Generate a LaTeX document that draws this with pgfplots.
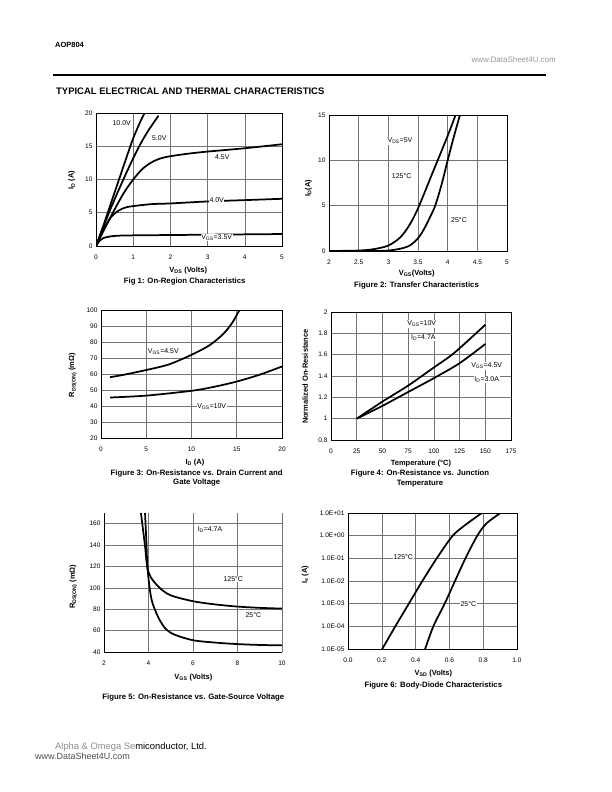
\documentclass[border=0pt]{standalone}
\usepackage{fontspec}
\setmainfont{Liberation Sans}
\usepackage{pgfplots}
\pgfplotsset{compat=1.18}
\newcommand{\sbs}[1]{\textsubscript{#1}}
\pgfplotsset{ds/.style={
  scale only axis, anchor=north west,
  grid=major, grid style={line width=0.55pt, black!55},
  axis line style={line width=0.75pt},
  tick style={draw=none},
  /pgf/number format/assume math mode=true,
  tick label style={font=\fontsize{6.6}{7}\selectfont},
  xticklabel style={anchor=base, yshift=-13bp},
  every axis x label/.style={anchor=center},
  every axis y label/.style={anchor=center, rotate=90},
  label style={font=\bfseries\fontsize{7.5}{9}\selectfont},
  every axis plot post/.append style={line width=1.75pt, black, mark=none, smooth},
}}
\tikzset{lab/.style={font=\fontsize{7}{8}\selectfont, fill=white, inner sep=0.6bp},
         figcap/.style={font=\bfseries\fontsize{7.8}{9.6}\selectfont, align=center, inner sep=0}}
\begin{document}
\begin{tikzpicture}
\path[use as bounding box] (0,0) rectangle (612bp,-792bp);
% header
\node[anchor=west,font=\bfseries\fontsize{7.5}{9}\selectfont,inner sep=0] at (55bp,-45bp) {AOP804};
\node[anchor=east,font=\fontsize{8}{9}\selectfont,text=black!40,inner sep=0] at (556bp,-60bp) {www.DataSheet4U.com};
\draw[line width=2bp] (53bp,-75bp) -- (546bp,-75bp);
\node[anchor=west,font=\bfseries\fontsize{9.5}{11}\selectfont,inner sep=0] at (56bp,-91bp) {TYPICAL ELECTRICAL AND THERMAL CHARACTERISTICS};

% ---------- Fig 1
\begin{axis}[ds, at={(96bp,-113bp)}, width=186bp, height=133bp,
  xmin=0, xmax=5, ymin=0, ymax=20, xtick={0,1,2,3,4,5}, ytick={0,5,10,15,20},
  xlabel={V\sbs{DS} (Volts)}, ylabel={I\sbs{D} (A)},
  xlabel style={at={(axis description cs:0.496,-0.186)}},
  ylabel style={at={(axis description cs:-0.131,0.496)}}]
\addplot coordinates {(0,0)(0.2,3.1)(0.4,6.4)(0.6,9.7)(0.8,13.0)(1.0,16.2)(1.2,18.8)(1.35,20.5)};
\addplot coordinates {(0,0)(0.2,2.9)(0.4,5.7)(0.6,8.3)(0.8,10.8)(1.0,13.2)(1.2,15.4)(1.4,17.3)(1.68,19.6)};
\addplot coordinates {(0,0)(0.25,2.8)(0.5,5.5)(0.75,8)(1,10)(1.25,11.6)(1.5,12.6)(1.75,13.2)(2,13.5)(2.5,13.9)(3,14.2)(4,14.7)(5,15.3)};
\addplot coordinates {(0,0)(0.2,2.5)(0.4,4.3)(0.6,5.3)(0.8,5.8)(1,6.0)(1.5,6.3)(2,6.4)(3,6.7)(4,6.9)(5,7.1)};
\addplot coordinates {(0,0)(0.1,0.8)(0.2,1.2)(0.4,1.45)(0.6,1.55)(1,1.6)(2,1.65)(3,1.7)(4,1.75)(5,1.8)};
\end{axis}
\node[lab] at (121.7bp,-123.3bp) {10.0V};
\node[lab] at (159.3bp,-137.7bp) {5.0V};
\node[lab] at (222.3bp,-157.3bp) {4.5V};
\node[lab] at (216.7bp,-200bp) {4.0V};
\node[lab] at (216.7bp,-237.3bp) {V\sbs{GS}=3.5V};
\node[figcap] at (184.7bp,-281.7bp) {Fig 1: On-Region Characteristics};

% ---------- Fig 2
\begin{axis}[ds, at={(329bp,-115bp)}, width=178bp, height=136bp,
  xmin=2, xmax=5, ymin=0, ymax=15, xtick={2,2.5,3,3.5,4,4.5,5}, ytick={0,5,10,15},
  xlabel={V\sbs{GS}(Volts)}, ylabel={I\sbs{D}(A)},
  xlabel style={at={(axis description cs:0.493,-0.164)}},
  ylabel style={at={(axis description cs:-0.116,0.461)}}]
\addplot coordinates {(2,0)(2.5,0.05)(2.75,0.2)(3,0.6)(3.2,1.5)(3.35,2.8)(3.5,4.7)(3.75,8.7)(4,12.7)(4.15,15.3)};
\addplot coordinates {(2,0)(2.8,0.01)(3,0.05)(3.2,0.25)(3.36,0.6)(3.5,1.4)(3.6,2.4)(3.7,3.7)(3.79,5)(3.9,7.4)(4,10)(4.1,12.5)(4.22,15.3)};
\end{axis}
\node[lab] at (400bp,-141bp) {V\sbs{DS}=5V};
\node[lab] at (401.7bp,-176bp) {125°C};
\node[lab] at (459bp,-220bp) {25°C};
\node[figcap] at (416.5bp,-285.7bp) {Figure 2: Transfer Characteristics};

% ---------- Fig 3
\begin{axis}[ds, at={(101bp,-310bp)}, width=181bp, height=128bp,
  xmin=0, xmax=20, ymin=20, ymax=100, xtick={0,5,10,15,20}, ytick={20,30,...,100},
  xlabel={I\sbs{D} (A)}, ylabel={R\sbs{DS(ON)} (mΩ)},
  xlabel style={at={(axis description cs:0.519,-0.19)}},
  ylabel style={at={(axis description cs:-0.156,0.492)}}]
\addplot coordinates {(1,58)(2.5,59.5)(5,62.5)(7.5,66)(10,72)(12,78)(13.5,85)(14.5,92)(15.4,101)};
\addplot coordinates {(1,45.3)(5,46.5)(10,49.5)(12.5,52)(15,55.3)(17.5,59.5)(20,64.7)};
\end{axis}
\node[lab] at (163.3bp,-351.7bp) {V\sbs{GS}=4.5V};
\node[lab] at (211.7bp,-406.7bp) {V\sbs{GS}=10V};
\node[figcap] at (196.7bp,-478bp) {Figure 3: On-Resistance vs. Drain Current and\\Gate Voltage};

% ---------- Fig 4
\begin{axis}[ds, at={(331bp,-312bp)}, width=180bp, height=128bp,
  xmin=0, xmax=175, ymin=0.8, ymax=2, xtick={0,25,...,175}, ytick={0.8,1,1.2,1.4,1.6,1.8,2},
  xlabel={Temperature (°C)}, ylabel={Normalized On-Resistance},
  xlabel style={at={(axis description cs:0.5,-0.1875)}},
  ylabel style={at={(axis description cs:-0.144,0.495)}}]
\addplot coordinates {(25,1)(50,1.16)(75,1.31)(100,1.48)(115,1.58)(125,1.66)(150,1.88)};
\addplot coordinates {(25,1)(50,1.12)(75,1.25)(100,1.38)(125,1.52)(150,1.70)};
\end{axis}
\node[lab] at (421.7bp,-324bp) {V\sbs{GS}=10V};
\node[lab] at (423.3bp,-337.7bp) {I\sbs{D}=4.7A};
\node[lab] at (486.7bp,-366bp) {V\sbs{GS}=4.5V};
\node[lab] at (486.7bp,-379.3bp) {I\sbs{D}=3.0A};
\node[figcap] at (420bp,-478.3bp) {Figure 4: On-Resistance vs. Junction\\Temperature};

% ---------- Fig 5
\begin{axis}[ds, at={(104bp,-513bp)}, width=178bp, height=139bp,
  axis x line*=bottom, axis y line*=left,
  xmin=2, xmax=10, ymin=40, ymax=170, xtick={2,4,6,8,10}, ytick={40,60,...,160},
  xlabel={V\sbs{GS} (Volts)}, ylabel={R\sbs{DS(ON)} (mΩ)},
  xlabel style={at={(axis description cs:0.502,-0.185)}},
  ylabel style={at={(axis description cs:-0.172,0.47)}}]
\addplot coordinates {(3.65,172)(3.75,155)(3.85,138)(3.94,120)(4.1,110)(4.5,100)(5,93)(6,87.5)(7,84.5)(8,82.5)(9,81.3)(10,80.6)};
\addplot coordinates {(3.84,172)(3.9,145)(3.95,120)(4.05,100)(4.15,88)(4.3,79)(4.5,70)(4.8,61)(5.2,56)(6,51)(7,48.8)(8,47.4)(9,46.6)(10,46.2)};
\end{axis}
\node[lab] at (210bp,-530bp) {I\sbs{D}=4.7A};
\node[lab] at (233.3bp,-579bp) {125°C};
\node[lab] at (253.3bp,-615bp) {25°C};
\node[figcap] at (193.3bp,-697.7bp) {Figure 5: On-Resistance vs. Gate-Source Voltage};

% ---------- Fig 6
\begin{axis}[ds, at={(348bp,-513bp)}, width=169bp, height=136bp, ymode=log,
  xmin=0, xmax=1, ymin=1e-5, ymax=10,
  xtick={0,0.2,0.4,0.6,0.8,1}, xticklabels={0.0,0.2,0.4,0.6,0.8,1.0},
  ytick={1e-5,1e-4,1e-3,1e-2,1e-1,1,10},
  yticklabels={1.0E-05,1.0E-04,1.0E-03,1.0E-02,1.0E-01,1.0E+00,1.0E+01},
  xlabel={V\sbs{SD} (Volts)}, ylabel={I\sbs{s} (A)},
  xlabel style={at={(axis description cs:0.505,-0.179)}},
  ylabel style={at={(axis description cs:-0.254,0.544)}}]
\addplot coordinates {(0.195,0.8e-5)(0.28,1e-4)(0.36,1e-3)(0.44,1e-2)(0.525,1e-1)(0.62,1)(0.7,3.2)(0.8,11)};
\addplot coordinates {(0.452,0.8e-5)(0.505,1e-4)(0.572,1e-3)(0.633,1e-2)(0.695,1e-1)(0.765,1)(0.82,3.5)(0.91,11)};
\end{axis}
\node[lab] at (403.3bp,-557.3bp) {125°C};
\node[lab] at (468.3bp,-604bp) {25°C};
\node[figcap] at (433.3bp,-685bp) {Figure 6: Body-Diode Characteristics};

% footer
\node[anchor=west,font=\fontsize{9.4}{10}\selectfont,inner sep=0] at (55bp,-746.7bp) {\textcolor{black!45}{Alpha \& Omega Se}miconductor, Ltd.};
\node[anchor=west,font=\fontsize{9}{10}\selectfont,text=black!70,inner sep=0] at (35bp,-756.5bp) {www.DataSheet4U.com};
\end{tikzpicture}
\end{document}
